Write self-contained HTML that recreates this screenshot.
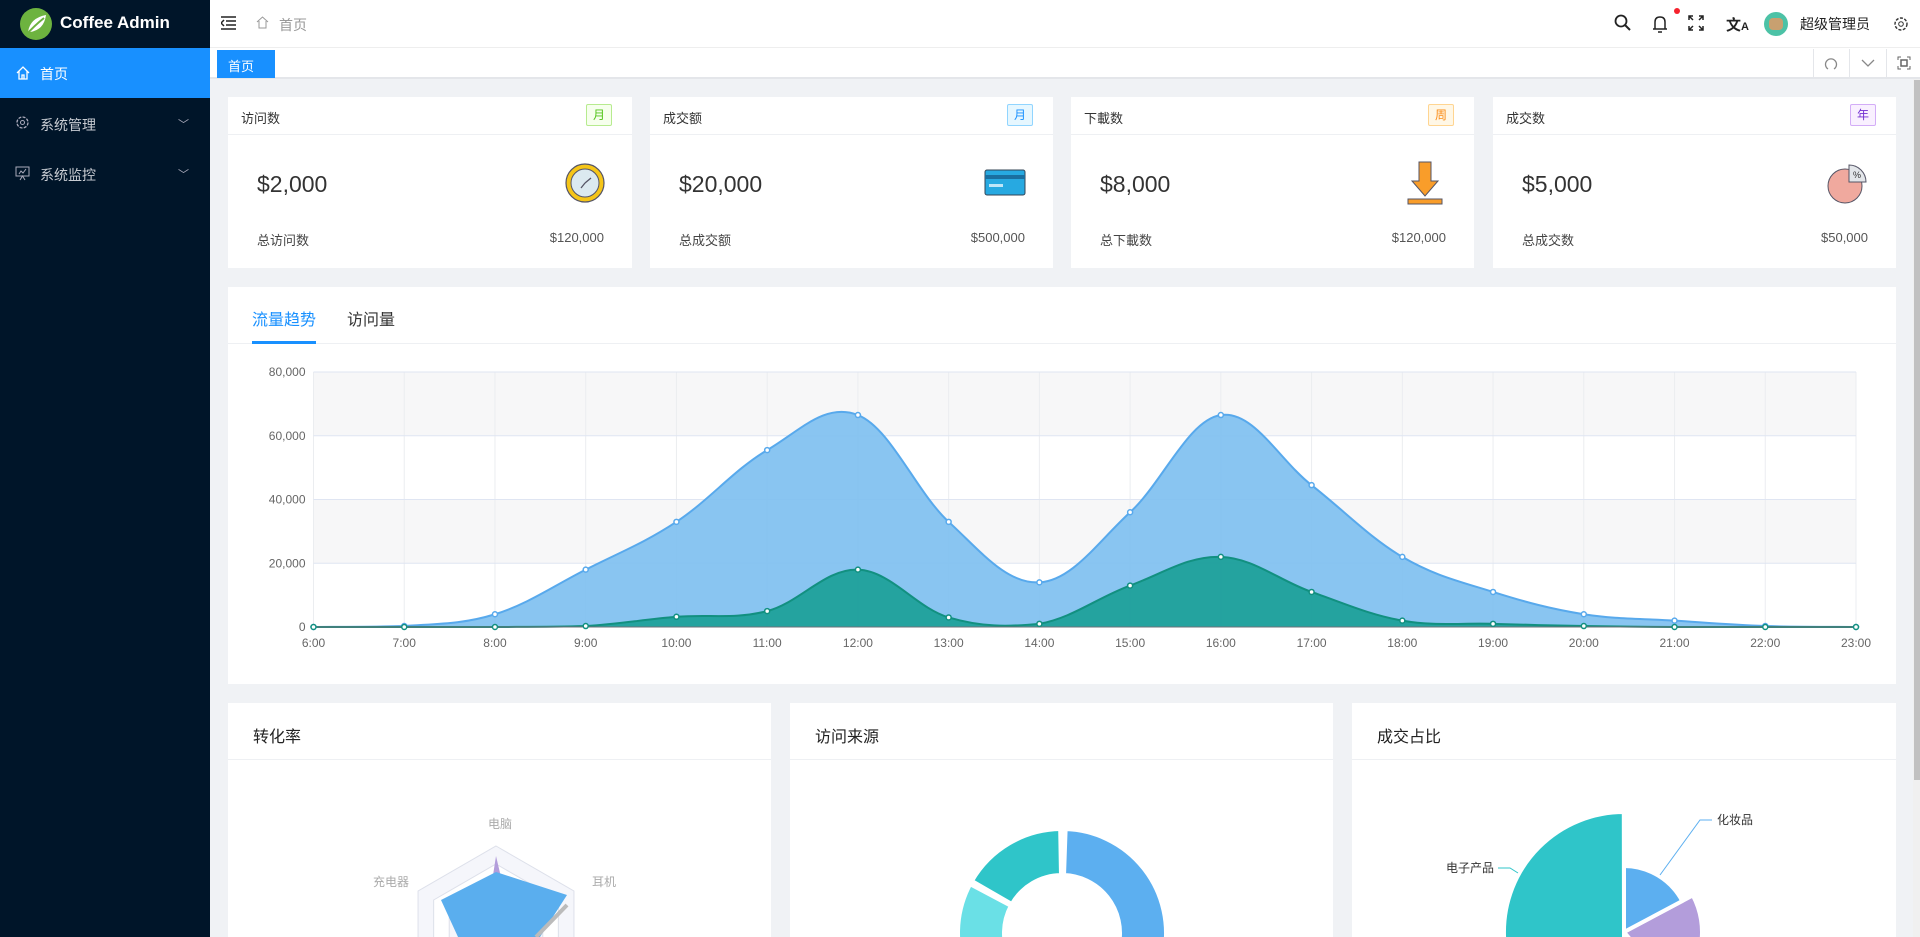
<!DOCTYPE html>
<html><head><meta charset="utf-8"><style>
*{margin:0;padding:0;box-sizing:border-box}
body{width:1920px;height:937px;overflow:hidden;background:#f0f2f5;font-family:"Liberation Sans","Noto Sans CJK SC",sans-serif;position:relative;color:#333}
.abs{position:absolute}
.side{left:0;top:0;width:210px;height:937px;background:#001529}
.logo{left:20px;top:8px;width:32px;height:32px;border-radius:50%;background:#6db33f}
.logot{left:60px;top:13px;color:#fff;font-weight:bold;font-size:17px}
.act{left:0;top:48px;width:210px;height:50px;background:#1890ff;color:#fff;font-size:14px;padding:16px 0 0 40px}
.mi{left:40px;color:#c8ccd2;font-size:14px}
.chev{color:#aab;font-size:11px;left:178px}
.head{left:210px;top:0;width:1710px;height:48px;background:#fff;border-bottom:1px solid #eee}
.tabs{left:210px;top:48px;width:1710px;height:31px;background:#fff;border-bottom:2px solid #e4e6ea}
.card{background:#fff;overflow:hidden}
.ch{border-bottom:1px solid #eef0f3;height:38px;font-size:13px;padding:11px 0 0 13px;position:relative}
.tag{position:absolute;right:20px;top:7px;width:26px;height:22px;font-size:12px;text-align:center;line-height:20px;border:1px solid;border-radius:2px}
.val{position:absolute;left:29px;top:74px;font-size:23px;color:#333}
.ft{position:absolute;left:29px;top:133px;font-size:13px;color:#444}
.fr{position:absolute;right:28px;top:133px;font-size:13px;color:#555}
.ph{height:57px;border-bottom:1px solid #eef0f3;font-size:16px;padding:20px 0 0 25px;color:#222}
</style></head><body>
<div class="abs side"></div>
<div class="abs logo"></div>
<svg class="abs" style="left:20px;top:8px" width="32" height="32"><path d="M8 24 Q10 10 26 7 Q24 22 10 24 Z" fill="#fff"/><path d="M6 27 Q14 18 24 10" stroke="#6db33f" stroke-width="2" fill="none"/></svg>
<div class="abs logot">Coffee Admin</div>
<div class="abs act">首页</div>
<svg class="abs" style="left:16px;top:66px" width="14" height="14"><path d="M1 7 L7 1 L13 7 M3 5 V13 H11 V5 M6 13 V9 H8 V13" stroke="#fff" fill="none" stroke-width="1.3"/></svg>
<div class="abs mi" style="top:115px">系统管理</div><div class="abs chev" style="top:116px">﹀</div>
<div class="abs mi" style="top:165px">系统监控</div><div class="abs chev" style="top:166px">﹀</div>
<svg class="abs" style="left:15px;top:115px" width="15" height="15"><circle cx="7.5" cy="7.5" r="5.5" stroke="#aab" fill="none" stroke-width="1.3" stroke-dasharray="3 1.3"/><circle cx="7.5" cy="7.5" r="2" stroke="#aab" fill="none"/></svg>
<svg class="abs" style="left:15px;top:166px" width="15" height="15"><rect x="1" y="1" width="13" height="9" stroke="#aab" fill="none"/><path d="M4 8 L6 5 L8 7 L11 3 M5 14 L7.5 10 L10 14" stroke="#aab" fill="none"/></svg>

<div class="abs head"></div>
<svg class="abs" style="left:221px;top:16px" width="16" height="14"><path d="M0 1H15M5 5H15M5 9H15M0 13H15M3 4 L0 7 L3 10" stroke="#222" stroke-width="1.5" fill="none"/></svg>
<svg class="abs" style="left:256px;top:16px" width="13" height="13"><path d="M1 6 L6.5 1 L12 6 M3 5 V12 H10 V5" stroke="#999" fill="none"/></svg>
<div class="abs" style="left:279px;top:15px;font-size:14px;color:#999">首页</div>
<svg class="abs" style="left:1614px;top:14px" width="18" height="18"><circle cx="7" cy="7" r="5.5" stroke="#222" stroke-width="1.8" fill="none"/><path d="M11 11 L16 16" stroke="#222" stroke-width="2"/></svg>
<svg class="abs" style="left:1652px;top:14px" width="16" height="20"><path d="M3 15 V8 Q3 3 8 3 Q13 3 13 8 V15 Z M1 15 H15 M6 18 H10" stroke="#222" stroke-width="1.5" fill="none"/></svg>
<div class="abs" style="left:1674px;top:8px;width:6px;height:6px;border-radius:50%;background:#f5222d"></div>
<svg class="abs" style="left:1688px;top:15px" width="16" height="16"><path d="M1 5V1H5M11 1H15V5M15 11V15H11M5 15H1V11M1 1L5 5M15 1L11 5M15 15L11 11M1 15L5 11" stroke="#222" stroke-width="1.5" fill="none"/></svg>
<div class="abs" style="left:1726px;top:14px;font-size:15px;font-weight:bold;color:#222">文<span style="font-size:11px">A</span></div>
<div class="abs" style="left:1764px;top:12px;width:24px;height:24px;border-radius:50%;background:#4cc2a6"><div style="margin:6px 5px;width:14px;height:12px;background:#c8a070;border-radius:4px"></div></div>
<div class="abs" style="left:1800px;top:14px;font-size:14px;color:#222">超级管理员</div>
<svg class="abs" style="left:1893px;top:16px" width="16" height="16"><circle cx="8" cy="8" r="6" stroke="#333" stroke-width="1.4" fill="none" stroke-dasharray="3 1.5"/><circle cx="8" cy="8" r="2.3" stroke="#333" fill="none"/></svg>

<div class="abs tabs"></div>
<div class="abs" style="left:217px;top:50px;width:58px;height:28px;background:#1890ff;color:#fff;font-size:13px;padding:6px 0 0 11px">首页</div>
<div class="abs" style="left:1813px;top:49px;width:1px;height:29px;background:#e4e6ea"></div>
<div class="abs" style="left:1849px;top:49px;width:1px;height:29px;background:#e4e6ea"></div>
<div class="abs" style="left:1886px;top:49px;width:1px;height:29px;background:#e4e6ea"></div>
<svg class="abs" style="left:1824px;top:57px" width="14" height="14"><path d="M4 12 A5.5 5.5 0 1 1 10 12" stroke="#888" fill="none" stroke-width="1.3"/></svg>
<svg class="abs" style="left:1861px;top:58px" width="14" height="10"><path d="M1 2 L7 8 L13 2" stroke="#888" fill="none" stroke-width="1.3"/></svg>
<svg class="abs" style="left:1897px;top:56px" width="14" height="14"><path d="M1 4V1H4M10 1H13V4M13 10V13H10M4 13H1V10" stroke="#666" fill="none"/><rect x="4" y="4" width="6" height="6" stroke="#666" fill="none" stroke-width="1.5"/></svg>
<div class="abs" style="left:1913px;top:79px;width:7px;height:858px;background:#f0f0f0"></div>
<div class="abs" style="left:1914px;top:80px;width:6px;height:700px;background:#c1c1c1"></div>

<!-- stat cards -->
<div class="abs card" style="left:228px;top:97px;width:404px;height:171px"><div class="ch">访问数<span class="tag" style="color:#52c41a;border-color:#b7eb8f;background:#f6ffed">月</span></div><div class="val">$2,000</div><div class="ft">总访问数</div><div class="fr">$120,000</div>
<svg style="position:absolute;left:336px;top:65px" width="42" height="42"><circle cx="21" cy="21" r="19" fill="#f5c518" stroke="#556" stroke-width="1.2"/><circle cx="21" cy="21" r="14" fill="#dbe9f0" stroke="#556"/><path d="M21 21 L27 16 M21 21 L17 26" stroke="#556" stroke-width="1.3"/></svg></div>
<div class="abs card" style="left:650px;top:97px;width:403px;height:171px"><div class="ch">成交额<span class="tag" style="color:#1890ff;border-color:#91d5ff;background:#e6f7ff">月</span></div><div class="val">$20,000</div><div class="ft">总成交额</div><div class="fr">$500,000</div>
<svg style="position:absolute;left:334px;top:72px" width="42" height="28"><rect x="1" y="1" width="40" height="25" rx="2" fill="#27a9e1" stroke="#345"/><rect x="1" y="6" width="40" height="4" fill="#1a6fa0"/><rect x="5" y="15" width="14" height="3" fill="#bfe6f8"/></svg></div>
<div class="abs card" style="left:1071px;top:97px;width:403px;height:171px"><div class="ch">下載数<span class="tag" style="color:#fa8c16;border-color:#ffd591;background:#fff7e6">周</span></div><div class="val">$8,000</div><div class="ft">总下載数</div><div class="fr">$120,000</div>
<svg style="position:absolute;left:334px;top:64px" width="40" height="44"><path d="M14 1 H26 V20 H33 L20 35 L7 20 H14 Z" fill="#f99d2a" stroke="#556"/><rect x="3" y="38" width="34" height="5" fill="#f99d2a" stroke="#556"/></svg></div>
<div class="abs card" style="left:1493px;top:97px;width:403px;height:171px"><div class="ch">成交数<span class="tag" style="color:#722ed1;border-color:#d3adf7;background:#f9f0ff">年</span></div><div class="val">$5,000</div><div class="ft">总成交数</div><div class="fr">$50,000</div>
<svg style="position:absolute;left:332px;top:64px" width="44" height="44"><circle cx="20" cy="25" r="17" fill="#f0a99e" stroke="#556"/><path d="M24 4 A17 17 0 0 1 41 21 H24 Z" fill="#e3e6ea" stroke="#556"/><text x="28" y="17" font-size="9" fill="#333">%</text></svg></div>

<!-- trend panel -->
<div class="abs card" style="left:228px;top:287px;width:1668px;height:397px">
<div style="height:57px;border-bottom:1px solid #eef0f3;position:relative">
<div style="position:absolute;left:24px;top:19px;font-size:16px;color:#1890ff">流量趋势</div>
<div style="position:absolute;left:24px;top:54px;width:64px;height:3px;background:#1890ff"></div>
<div style="position:absolute;left:119px;top:19px;font-size:16px;color:#333">访问量</div>
</div></div>
<svg class="abs" id="ch" style="left:0;top:0" width="1920" height="937"></svg>

<!-- bottom panels -->
<div class="abs card" style="left:228px;top:703px;width:543px;height:234px"><div class="ph">转化率</div></div>
<div class="abs card" style="left:790px;top:703px;width:543px;height:234px"><div class="ph">访问来源</div></div>
<div class="abs card" style="left:1352px;top:703px;width:544px;height:234px"><div class="ph">成交占比</div></div>
<svg class="abs" id="bt" style="left:0;top:0" width="1920" height="937"></svg>

<script>
var s=document.getElementById('ch'),h='';
var x0=313.5,x1=1856,y0=627,y8=372,n=18,st=(x1-x0)/17;
function Y(v){return y0-v/80000*(y0-y8)}
for(var i=0;i<4;i++){var ya=Y((i+1)*20000),yb=Y(i*20000);if(i%2==1)h+='<rect x="'+x0+'" y="'+ya+'" width="'+(x1-x0)+'" height="'+(yb-ya)+'" fill="#f7f7f8"/>';}
for(var i=0;i<n;i++){var x=x0+i*st;h+='<line x1="'+x+'" y1="'+y8+'" x2="'+x+'" y2="'+y0+'" stroke="#ebedf0"/>';}
for(var i=0;i<=4;i++){var y=Y(i*20000);h+='<line x1="'+x0+'" y1="'+y+'" x2="'+x1+'" y2="'+y+'" stroke="#dfe5f2"/>';
h+='<text x="'+(x0-8)+'" y="'+(y+4)+'" text-anchor="end" font-size="12" fill="#666">'+(i?(i*20)+',000':'0')+'</text>';}
var A=[0,300,4000,18000,33000,55500,66500,33000,14000,36000,66500,44500,22000,11000,4000,2000,300,0];
var B=[0,0,0,300,3200,5000,18000,3000,1000,13000,22000,11000,2000,1000,300,0,0,0];
function path(d){var p=d.map(function(v,i){return [x0+i*st,Y(v)]});var r='M'+p[0];
for(var i=0;i<p.length-1;i++){var a=p[i-1]||p[i],b=p[i],c=p[i+1],e=p[i+2]||c,t=0.18;
r+=' C'+(b[0]+(c[0]-a[0])*t)+','+Math.min(y0,(b[1]+(c[1]-a[1])*t))+' '+(c[0]-(e[0]-b[0])*t)+','+Math.min(y0,(c[1]-(e[1]-b[1])*t))+' '+c[0]+','+c[1];}return r;}
var pa=path(A),pb=path(B);
h+='<path d="'+pa+' L'+x1+','+y0+' L'+x0+','+y0+'Z" fill="#7fc0f0" opacity="0.92"/><path d="'+pa+'" stroke="#58a9ec" stroke-width="2" fill="none"/>';
h+='<path d="'+pb+' L'+x1+','+y0+' L'+x0+','+y0+'Z" fill="#1a9e96" opacity="0.9"/><path d="'+pb+'" stroke="#129080" stroke-width="2" fill="none"/>';
h+='<line x1="'+x0+'" y1="'+y0+'" x2="'+x1+'" y2="'+y0+'" stroke="#6e7079"/>';
for(var i=0;i<n;i++){var x=x0+i*st;
h+='<circle cx="'+x+'" cy="'+Y(A[i])+'" r="2.5" fill="#fff" stroke="#58a9ec" stroke-width="1.5"/>';
h+='<circle cx="'+x+'" cy="'+Y(B[i])+'" r="2.5" fill="#fff" stroke="#129080" stroke-width="1.5"/>';
h+='<text x="'+x+'" y="'+(y0+20)+'" text-anchor="middle" font-size="12" fill="#666">'+(i+6)+':00</text>';}
s.innerHTML=h;
var b='';
var cx=496,cy=936;
function hx(r){var p=[];for(var k=0;k<6;k++){var a=Math.PI/3*k;p.push((cx+r*Math.sin(a))+','+(cy-r*Math.cos(a)));}return p.join(' ');}
b+='<polygon points="'+hx(90)+'" fill="#f5f6fb" stroke="#dde0ea"/><polygon points="'+hx(72)+'" fill="#fff" stroke="#dde0ea"/><polygon points="'+hx(54)+'" fill="#f5f6fb" stroke="#dde0ea"/>';
b+='<polygon points="'+cx+','+(cy-80)+' 510,915 486,920" fill="#b39ddb"/>';
b+='<polygon points="'+cx+','+(cy-64)+' 567,895 540,937 458,937 441,900" fill="#5aaeee"/>';
b+='<line x1="'+(cx+40)+'" y1="937" x2="567" y2="905" stroke="#bbb" stroke-width="4"/>';
b+='<text x="500" y="828" text-anchor="middle" font-size="12" fill="#aaa">电脑</text><text x="592" y="886" font-size="12" fill="#aaa">耳机</text><text x="373" y="886" font-size="12" fill="#aaa">充电器</text>';
function arc(c1,c2,r,R,a1,a2,col){function P(rr,a){a=a*Math.PI/180;return (c1+rr*Math.sin(a))+','+(c2-rr*Math.cos(a));}
var l=(a2-a1)>180?1:0;return '<path d="M'+P(R,a1)+' A'+R+','+R+' 0 '+l+' 1 '+P(R,a2)+' L'+P(r,a2)+' A'+r+','+r+' 0 '+l+' 0 '+P(r,a1)+'Z" fill="'+col+'" stroke="#fff" stroke-width="4" stroke-linejoin="round"/>';}
b+=arc(1062,933,58,104,2,200,'#5caff0')+arc(1062,933,58,104,300,359,'#2fc5c9')+arc(1062,933,58,104,245,298,'#6ae0e6');
b+=arc(1624,932,0,78,62,140,'#b39ddb')+arc(1624,932,0,66,0,62,'#5caff0')+arc(1624,932,0,120,180,359.9,'#2fc5c9');
b+='<polyline points="1660,875 1700,820 1712,820" stroke="#5caff0" fill="none"/><text x="1717" y="824" font-size="12" fill="#333">化妆品</text>';
b+='<polyline points="1518,873 1510,868 1498,868" stroke="#2fc5c9" fill="none"/><text x="1494" y="872" text-anchor="end" font-size="12" fill="#333">电子产品</text>';
document.getElementById('bt').innerHTML=b;
</script>
</body></html>
